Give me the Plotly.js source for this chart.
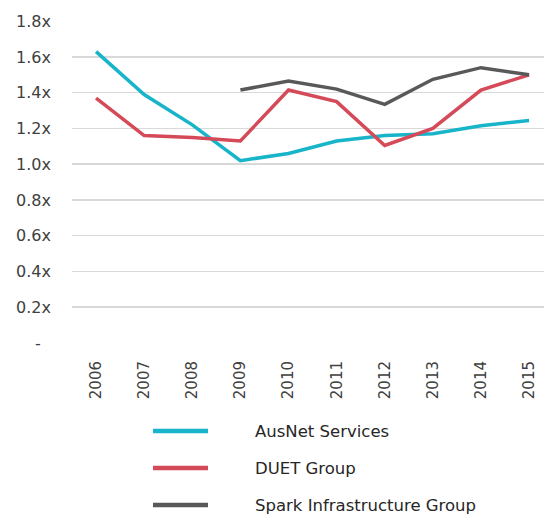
<!DOCTYPE html>
<html>
<head>
<meta charset="utf-8">
<script src="https://cdn.plot.ly/plotly-3.0.1.min.js"></script>
<style>html,body{margin:0;padding:0;background:#fff;}#chart{width:544px;height:514px;}</style>
</head>
<body>
<div id="chart"></div>
<script>
const years = ['2006','2007','2008','2009','2010','2011','2012','2013','2014','2015'];
const ausnet = [1.63, 1.39, 1.22, 1.02, 1.06, 1.13, 1.16, 1.17, 1.215, 1.245];
const duet = [1.37, 1.16, 1.15, 1.13, 1.415, 1.35, 1.105, 1.20, 1.415, 1.50];
const spark = [null, null, null, 1.415, 1.465, 1.42, 1.335, 1.475, 1.54, 1.50];
const yTickVals = [0, 0.2, 0.4, 0.6, 0.8, 1.0, 1.2, 1.4, 1.6, 1.8];
const yTickText = ['-\u00a0\u00a0', '0.2x', '0.4x', '0.6x', '0.8x', '1.0x', '1.2x', '1.4x', '1.6x', '1.8x'];
const names = ['AusNet Services', 'DUET Group', 'Spark Infrastructure Group'];
const colors = ['#17b4ca', '#d44a58', '#595959'];
const series = [ausnet, duet, spark];

const traces = series.map((s, i) => ({
  x: years, y: s, name: names[i], type: 'scatter', mode: 'lines',
  line: {color: colors[i], width: 3.5}, connectgaps: false, showlegend: false
}));

const font = 'DejaVu Sans, sans-serif';
const W = 544, H = 514;
const legShapes = [], legAnn = [];
names.forEach((n, i) => {
  const yc = 431 + i * 37;
  legShapes.push({type: 'line', xref: 'paper', yref: 'paper',
    x0: (153 - 72) / 472, x1: (208 - 72) / 472,
    y0: (343 - yc) / 322, y1: (343 - yc) / 322,
    line: {color: colors[i], width: 4.5}});
  legAnn.push({xref: 'paper', yref: 'paper', x: (253 - 72) / 472, y: (343 - yc) / 322,
    xanchor: 'left', yanchor: 'middle', showarrow: false, text: n,
    font: {family: font, size: 16.5, color: '#262626'}});
});

const layout = {
  width: W, height: H,
  margin: {l: 72, r: 0, t: 21, b: 171},
  paper_bgcolor: '#fff', plot_bgcolor: '#fff',
  showlegend: false,
  xaxis: {
    type: 'category', range: [-0.5, 9.31], automargin: false,
    showgrid: false, zeroline: false, showline: false,
    tickangle: -90, tickfont: {family: font, size: 15, color: '#404040'},
    ticks: '', ticklabelstandoff: 14
  },
  yaxis: {
    range: [0, 1.801], tickvals: yTickVals, ticktext: yTickText, automargin: false,
    showgrid: true, gridcolor: '#d9d9d9', gridwidth: 1.5,
    zeroline: false, showline: false, ticks: '',
    tickfont: {family: font, size: 16, color: '#404040'},
    ticklabelstandoff: 20
  },
  shapes: legShapes,
  annotations: legAnn
};

Plotly.newPlot('chart', traces, layout, {displayModeBar: false, staticPlot: true});
</script>
</body>
</html>
